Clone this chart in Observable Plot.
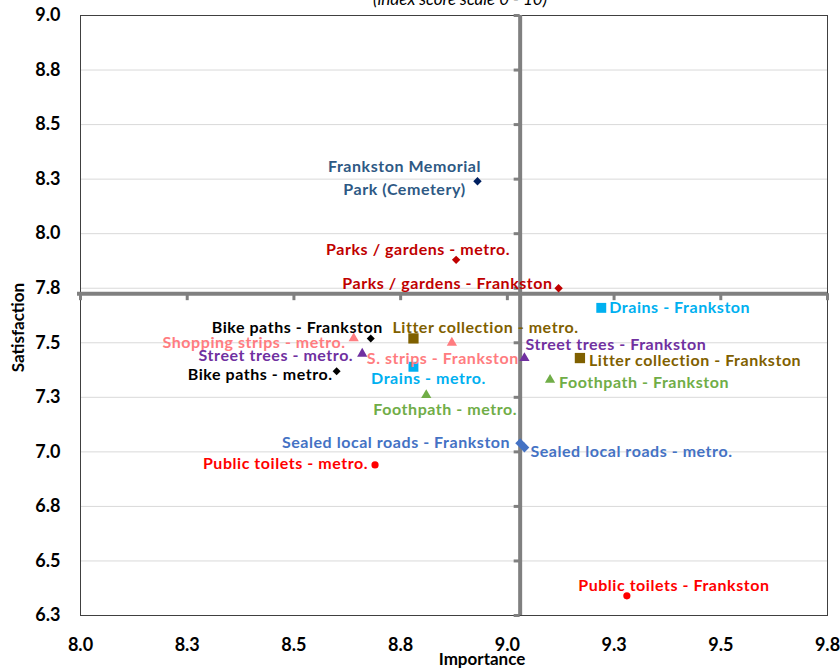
<!DOCTYPE html>
<html>
<head>
<meta charset="utf-8">
<script src="https://cdn.jsdelivr.net/npm/d3@7"></script>
<script src="https://cdn.jsdelivr.net/npm/@observablehq/plot@0.6"></script>
<style>
  html, body { margin: 0; padding: 0; background: #fff; }
  #wrap { position: relative; width: 840px; height: 671px; overflow: hidden; }
  #title { position: absolute; top: -12px; left: 0; width: 920px; text-align: center;
           font: italic 17px Lato, "Open Sans", sans-serif; color: #000; }
  #chart svg { display: block; }
  g[aria-label^="x-axis"] text { font-size: 18px; font-weight: bold; }
  g[aria-label^="y-axis"] text { font-size: 18px; font-weight: bold; }
  g.pt-label text { letter-spacing: 0.55px; }
</style>
</head>
<body>
<div id="wrap">
  <div id="chart"></div>
  <div id="title">(index score scale 0 - 10)</div>
</div>
<script>
// ---- data ----
const labels = [
  "Frankston Memorial\nPark (Cemetery)",
  "Parks / gardens - metro.",
  "Parks / gardens - Frankston",
  "Drains - Frankston",
  "Litter collection - metro.",
  "Bike paths - Frankston",
  "Shopping strips - metro.",
  "S. strips - Frankston",
  "Street trees - metro.",
  "Street trees - Frankston",
  "Litter collection - Frankston",
  "Drains - metro.",
  "Bike paths - metro.",
  "Foothpath - Frankston",
  "Foothpath - metro.",
  "Sealed local roads - Frankston",
  "Sealed local roads - metro.",
  "Public toilets - metro.",
  "Public toilets - Frankston"
];
const services = [
  "cemetery", "parks", "parks", "drains", "litter", "bike", "shopping", "shopping",
  "trees", "trees", "litter", "drains", "bike", "footpath", "footpath",
  "roads", "roads", "toilets", "toilets"
];
const importance = [
  8.93, 8.88, 9.12, 9.22, 8.78, 8.68, 8.64, 8.87,
  8.66, 9.04, 9.17, 8.78, 8.60, 9.10, 8.81,
  9.03, 9.04, 8.69, 9.28
];
const satisfaction = [
  8.24, 7.88, 7.75, 7.66, 7.52, 7.52, 7.52, 7.50,
  7.45, 7.43, 7.43, 7.39, 7.37, 7.33, 7.26,
  7.04, 7.02, 6.94, 6.34
];
const xTicks = [8.0, 8.25, 8.5, 8.75, 9.0, 9.25, 9.5, 9.75];
const xTickLabels = ["8.0", "8.3", "8.5", "8.8", "9.0", "9.3", "9.5", "9.8"];
const yTicks = [6.25, 6.5, 6.75, 7.0, 7.25, 7.5, 7.75, 8.0, 8.25, 8.5, 8.75, 9.0];
const yTickLabels = ["6.3", "6.5", "6.8", "7.0", "7.3", "7.5", "7.8", "8.0", "8.3", "8.5", "8.8", "9.0"];
const meanImportance = [9.03];
const meanSatisfaction = [7.725];

// ---- styles (kept apart from data) ----
const serviceStyle = {
  cemetery: {marker: "#002060", text: "#2E5984", symbol: "diamond2", r: 3.8},
  parks:    {marker: "#C00000", text: "#C00000", symbol: "diamond2", r: 3.8},
  drains:   {marker: "#00B0F0", text: "#00B0F0", symbol: "square", r: 5.6},
  litter:   {marker: "#7F6000", text: "#7F6000", symbol: "square", r: 5.8},
  bike:     {marker: "#000000", text: "#000000", symbol: "diamond2", r: 3.6},
  shopping: {marker: "#FF7C80", text: "#FF7C80", symbol: "triangle", r: 3.8},
  trees:    {marker: "#7030A0", text: "#7030A0", symbol: "triangle", r: 3.8},
  footpath: {marker: "#70AD47", text: "#70AD47", symbol: "triangle", r: 3.8},
  roads:    {marker: "#4472C4", text: "#4472C4", symbol: "diamond2", r: 4.4},
  toilets:  {marker: "#FF0000", text: "#FF0000", symbol: "circle", r: 3.6}
};
// label placement relative to each marker (pixels)
const labelPlace = [
  {anchor: "middle", dx: -73, dy: -5},
  {anchor: "middle", dx: -38, dy: -12},
  {anchor: "end", dx: -6, dy: -7},
  {anchor: "start", dx: 8, dy: -2},
  {anchor: "start", dx: -21, dy: -13},
  {anchor: "end", dx: 12, dy: -13},
  {anchor: "end", dx: -8, dy: 2},
  {anchor: "start", dx: -85, dy: 14},
  {anchor: "end", dx: -9, dy: 0},
  {anchor: "start", dx: 1, dy: -15},
  {anchor: "start", dx: 9, dy: 1},
  {anchor: "middle", dx: 15, dy: 10},
  {anchor: "end", dx: -4, dy: 1},
  {anchor: "start", dx: 9, dy: 1},
  {anchor: "middle", dx: 19, dy: 12},
  {anchor: "end", dx: -10, dy: -3},
  {anchor: "start", dx: 6, dy: 2},
  {anchor: "end", dx: -7, dy: -3},
  {anchor: "middle", dx: 47, dy: -12}
];

const rows = labels.map((label, i) => ({
  label, service: services[i], x: importance[i], y: satisfaction[i]
}));

const dotMarks = [];
for (const s of Object.keys(serviceStyle)) {
  const st = serviceStyle[s];
  dotMarks.push(Plot.dot(rows.filter(d => d.service === s), {
    x: "x", y: "y", symbol: st.symbol, r: st.r, fill: st.marker, stroke: "none"
  }));
}
const textMarks = rows.map((d, i) => Plot.text([d], {
  x: "x", y: "y", text: "label",
  textAnchor: labelPlace[i].anchor, dx: labelPlace[i].dx, dy: labelPlace[i].dy,
  fill: serviceStyle[d.service].text, lineAnchor: "middle", lineHeight: 1.45,
  fontSize: 16, fontWeight: "bold", className: "pt-label"
}));

const xFmt = v => xTickLabels[xTicks.indexOf(v)];
const yFmt = v => yTickLabels[yTicks.indexOf(v)];

const chart = Plot.plot({
  width: 840,
  height: 671,
  marginLeft: 80,
  marginRight: 13,
  marginTop: 15,
  marginBottom: 56,
  style: {fontFamily: "Lato, 'Open Sans', sans-serif", fontWeight: "bold", fontSize: "15px", color: "#000", background: "#fff"},
  x: {domain: [8, 9.75], ticks: xTicks, tickFormat: xFmt, tickSize: 0, tickPadding: 23, label: null},
  y: {domain: [6.25, 9], ticks: yTicks, tickFormat: yFmt, tickSize: 0, tickPadding: 20, label: null},
  marks: [
    Plot.ruleY(yTicks, {stroke: "#D9D9D9", strokeWidth: 1}),
    Plot.frame({stroke: "#404040", strokeWidth: 1}),
    Plot.ruleX(meanImportance, {stroke: "#808080", strokeWidth: 4}),
    Plot.ruleY(meanSatisfaction, {stroke: "#808080", strokeWidth: 4, insetLeft: -3}),
    Plot.ruleY(yTicks, {y: d => d, x1: () => meanImportance[0], x2: () => meanImportance[0], insetLeft: -6, stroke: "#808080", strokeWidth: 3}),
    Plot.ruleX(xTicks, {x: d => d, y1: () => meanSatisfaction[0], y2: () => meanSatisfaction[0], insetBottom: -7, stroke: "#808080", strokeWidth: 3}),
    ...dotMarks,
    ...textMarks,
    Plot.text(["Importance"], {frameAnchor: "bottom", dx: 28, dy: 49, fontSize: 17, fontWeight: "bold", fill: "#000"}),
    Plot.text(["Satisfaction"], {frameAnchor: "left", textAnchor: "middle", rotate: -90, dx: -62, dy: 12, fontSize: 17, fontWeight: "bold", fill: "#000"})
  ]
});
document.getElementById("chart").appendChild(chart);
</script>
</body>
</html>
